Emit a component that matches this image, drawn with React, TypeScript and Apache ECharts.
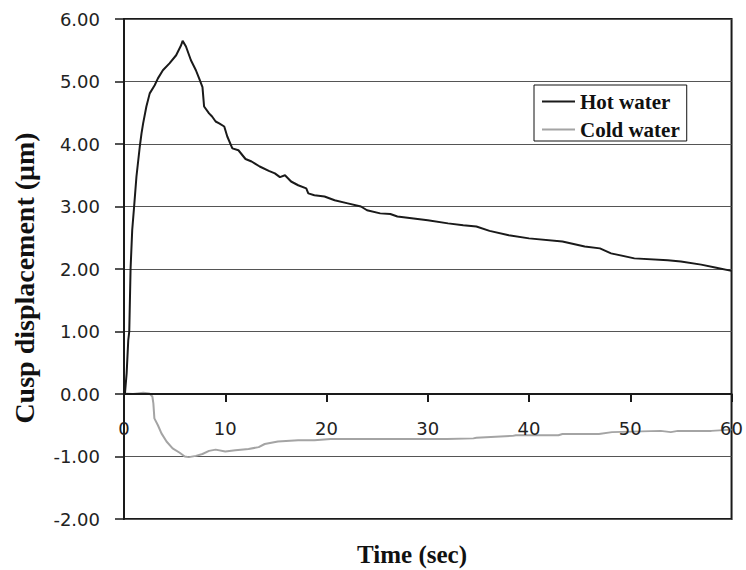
import React, { useEffect, useRef } from "react";
import * as echarts from "echarts";

// Hot water: time (s) and cusp displacement (µm)
const hotTime = [0, 0.1, 0.26, 0.42, 0.52, 0.65, 0.81, 1.0, 1.23, 1.56, 1.73, 1.89, 2.21, 2.54, 3.03, 3.35, 3.84, 4.49, 5.15, 5.64, 5.79, 6.12, 6.61, 7.1, 7.42, 7.75, 7.91, 8.4, 8.7, 9.05, 9.4, 9.9, 10.2, 10.7, 11.3, 12.0, 12.6, 13.4, 14.3, 14.9, 15.4, 15.9, 16.5, 17.2, 18.0, 18.2, 18.8, 19.8, 20.8, 22.1, 23.4, 24.0, 25.3, 26.3, 27.0, 30.0, 32.0, 33.5, 34.8, 36.1, 38.0, 40.0, 43.3, 45.5, 47.0, 48.1, 50.4, 53.7, 55.0, 57.0, 58.5, 60.0];
const hotValue = [0.0, 0.02, 0.33, 0.86, 1.0, 2.01, 2.62, 3.0, 3.48, 3.96, 4.17, 4.33, 4.6, 4.81, 4.94, 5.05, 5.18, 5.29, 5.42, 5.58, 5.65, 5.56, 5.34, 5.18, 5.05, 4.91, 4.6, 4.49, 4.44, 4.36, 4.33, 4.28, 4.12, 3.93, 3.9, 3.76, 3.72, 3.64, 3.57, 3.53, 3.47, 3.5, 3.4, 3.34, 3.29, 3.21, 3.18, 3.16, 3.1, 3.05, 3.0, 2.94, 2.89, 2.88, 2.84, 2.78, 2.73, 2.7, 2.68, 2.61, 2.54, 2.49, 2.44, 2.36, 2.33, 2.25, 2.17, 2.14, 2.12, 2.07, 2.02, 1.97];

// Cold water
const coldTime = [0, 0.9, 1.9, 2.5, 2.8, 2.9, 3.0, 3.35, 3.7, 4.2, 4.8, 5.5, 6.0, 6.4, 7.1, 7.75, 8.4, 9.05, 10.0, 11.0, 12.3, 13.3, 13.9, 15.2, 17.2, 18.8, 20.4, 23.7, 27.0, 31.9, 34.5, 34.8, 38.4, 38.7, 42.9, 43.3, 46.9, 48.2, 53.0, 54.0, 54.7, 58.0, 60.0];
const coldValue = [0.01, 0.0, 0.02, 0.01, -0.04, -0.15, -0.39, -0.5, -0.63, -0.76, -0.87, -0.94, -1.0, -1.01, -0.99, -0.96, -0.91, -0.89, -0.92, -0.9, -0.88, -0.85, -0.8, -0.76, -0.74, -0.74, -0.72, -0.72, -0.72, -0.72, -0.71, -0.7, -0.67, -0.66, -0.66, -0.64, -0.64, -0.61, -0.59, -0.61, -0.59, -0.59, -0.57];

const seriesNames = ["Hot water", "Cold water"];
const xTitle = "Time (sec)";
const yTitle = "Cusp displacement (\u03bcm)";

export default function App() {
  const ref = useRef<HTMLDivElement>(null);
  useEffect(() => {
    if (!ref.current) return;
    const chart = echarts.init(ref.current, null, { renderer: "svg" });
    const hot = hotTime.map((t, i) => [t, hotValue[i]]);
    const cold = coldTime.map((t, i) => [t, coldValue[i]]);
    chart.setOption({
      animation: false,
      backgroundColor: "#ffffff",
      grid: {
        left: 124,
        right: 8,
        top: 19,
        bottom: 51,
        show: true,
        borderColor: "#1a1a1a",
        borderWidth: 2,
        backgroundColor: "transparent",
      },
      xAxis: {
        type: "value",
        min: 0,
        max: 60,
        interval: 10,
        axisLine: { show: true, onZero: true, lineStyle: { color: "#1a1a1a", width: 2 } },
        axisTick: { show: true, length: 8, lineStyle: { color: "#1a1a1a", width: 2 } },
        axisLabel: { margin: -100, fontFamily: "DejaVu Sans", fontSize: 18, color: "#222" },
        splitLine: { show: false },
        z: 5,
      },
      yAxis: {
        type: "value",
        min: -2,
        max: 6,
        interval: 1,
        axisLine: { show: true, lineStyle: { color: "#1a1a1a", width: 2 } },
        axisTick: { show: true, length: 9, lineStyle: { color: "#1a1a1a", width: 1.5 } },
        axisLabel: {
          margin: 24,
          fontFamily: "DejaVu Sans",
          fontSize: 18,
          color: "#222",
          formatter: (v: number) => v.toFixed(2),
        },
        splitLine: { show: true, lineStyle: { color: "#555", width: 1 } },
      },
      legend: {
        orient: "vertical",
        left: 534,
        top: 85,
        padding: [6, 7, 1, 8],
        itemGap: 7,
        itemWidth: 33,
        itemHeight: 2,
        icon: "rect",
        borderColor: "#111",
        borderWidth: 1,
        backgroundColor: "#fff",
        data: seriesNames,
        textStyle: {
          fontFamily: "Liberation Serif",
          fontWeight: "bold",
          fontSize: 21,
          color: "#111",
          lineHeight: 21,
        },
      },
      graphic: [
        {
          type: "text",
          x: 24,
          y: 278,
          rotation: Math.PI / 2,
          style: {
            text: yTitle,
            fontFamily: "Liberation Serif",
            fontWeight: "bold",
            fontSize: 28,
            fill: "#111",
            align: "center",
            verticalAlign: "middle",
          },
        },
        {
          type: "text",
          x: 412,
          y: 554,
          style: {
            text: xTitle,
            fontFamily: "Liberation Serif",
            fontWeight: "bold",
            fontSize: 25,
            fill: "#111",
            align: "center",
            verticalAlign: "middle",
          },
        },
      ],
      series: [
        {
          name: seriesNames[0],
          type: "line",
          data: hot,
          showSymbol: false,
          symbol: "none",
          lineStyle: { color: "#1a1a1a", width: 2 },
          itemStyle: { color: "#1a1a1a" },
          z: 3,
        },
        {
          name: seriesNames[1],
          type: "line",
          data: cold,
          showSymbol: false,
          symbol: "none",
          lineStyle: { color: "#a4a4a4", width: 2 },
          itemStyle: { color: "#a4a4a4" },
          z: 2,
        },
      ],
    });
    return () => chart.dispose();
  }, []);
  return <div ref={ref} style={{ width: 746, height: 570, position: "absolute", left: 0, top: 0 }} />;
}
